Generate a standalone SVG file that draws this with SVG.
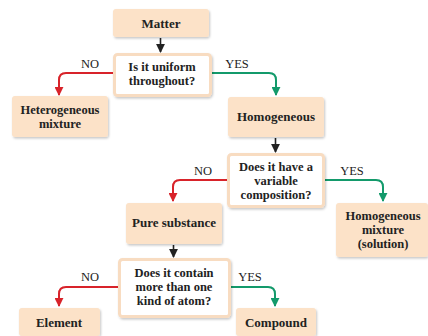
<svg xmlns="http://www.w3.org/2000/svg" width="428" height="336" viewBox="0 0 428 336">
<defs>
<filter id="sh" x="-10%" y="-10%" width="130%" height="140%">
<feDropShadow dx="1" dy="1.5" stdDeviation="1" flood-color="#000" flood-opacity="0.22"/>
</filter>
<marker id="ak" viewBox="0 0 10 10" refX="5" refY="9" markerWidth="9" markerHeight="9" markerUnits="userSpaceOnUse">
<path d="M0,0 L10,0 L5,10 Z" fill="#222"/>
</marker>
<marker id="ar" viewBox="0 0 10 10" refX="5" refY="9" markerWidth="9" markerHeight="9" markerUnits="userSpaceOnUse">
<path d="M0,0 L10,0 L5,10 Z" fill="#d8232a"/>
</marker>
<marker id="ag" viewBox="0 0 10 10" refX="5" refY="9" markerWidth="9" markerHeight="9" markerUnits="userSpaceOnUse">
<path d="M0,0 L10,0 L5,10 Z" fill="#139a6b"/>
</marker>
</defs>
<style>
.box{fill:#fce2c8;filter:url(#sh)}
.dec{fill:#fff;stroke:#f8dcc1;stroke-width:3;filter:url(#sh)}
.t{font-family:"Liberation Serif","Times New Roman",serif;font-weight:bold;font-size:13px;fill:#222;text-anchor:middle}
.m{font-size:12.5px}
.l{font-family:"Liberation Serif","Times New Roman",serif;font-size:12.5px;fill:#222;text-anchor:middle}
.k{fill:none;stroke:#222;stroke-width:1.6}
.r{fill:none;stroke:#d8232a;stroke-width:2}
.g{fill:none;stroke:#139a6b;stroke-width:2}
</style>
<rect width="428" height="336" fill="#fff"/>
<g id="connectors">
<line class="k" x1="160.5" y1="38" x2="160.5" y2="52" marker-end="url(#ak)"/>
<path class="r" d="M113,73 H66 Q59,73 59,80 V95" marker-end="url(#ar)"/>
<path class="g" d="M211,73 H269 Q276,73 276,80 V95" marker-end="url(#ag)"/>
<line class="k" x1="275.5" y1="138" x2="275.5" y2="152" marker-end="url(#ak)"/>
<path class="r" d="M227,180 H180 Q173,180 173,187 V201" marker-end="url(#ar)"/>
<path class="g" d="M325,180 H376 Q383,180 383,187 V201" marker-end="url(#ag)"/>
<line class="k" x1="173.5" y1="245" x2="173.5" y2="257" marker-end="url(#ak)"/>
<path class="r" d="M118,287 H66 Q59,287 59,294 V306" marker-end="url(#ar)"/>
<path class="g" d="M230,287 H268 Q275,287 275,294 V306" marker-end="url(#ag)"/>
<text class="l" x="90" y="68">NO</text>
<text class="l" x="237" y="68">YES</text>
<text class="l" x="203" y="175">NO</text>
<text class="l" x="352" y="175">YES</text>
<text class="l" x="90" y="281">NO</text>
<text class="l" x="250" y="281">YES</text>
</g>
<g id="matter">
<rect class="box" x="113" y="9" width="96" height="28" rx="3"/>
<text class="t" x="161" y="27.5">Matter</text>
</g>
<g id="q1">
<rect class="dec" x="114.5" y="54.5" width="96" height="41" rx="3"/>
<text class="t m" x="162" y="71">Is it uniform</text>
<text class="t m" x="162" y="85">throughout?</text>
</g>
<g id="hetero">
<rect class="box" x="12" y="96" width="96" height="41" rx="3"/>
<text class="t m" x="60" y="114">Heterogeneous</text>
<text class="t m" x="60" y="128">mixture</text>
</g>
<g id="homo">
<rect class="box" x="228" y="97" width="96" height="40" rx="3"/>
<text class="t" x="276" y="121">Homogeneous</text>
</g>
<g id="q2">
<rect class="dec" x="228.5" y="154.5" width="95" height="52" rx="3"/>
<text class="t m" x="276" y="171">Does it have a</text>
<text class="t m" x="276" y="185">variable</text>
<text class="t m" x="276" y="199">composition?</text>
</g>
<g id="pure">
<rect class="box" x="126" y="203" width="96" height="41" rx="3"/>
<text class="t" x="174" y="227">Pure substance</text>
</g>
<g id="solution">
<rect class="box" x="336" y="203" width="92" height="54" rx="3"/>
<text class="t m" x="383" y="220">Homogeneous</text>
<text class="t m" x="383" y="234">mixture</text>
<text class="t m" x="383" y="248">(solution)</text>
</g>
<g id="q3">
<rect class="dec" x="119.5" y="259.5" width="110" height="57" rx="3"/>
<text class="t m" x="174" y="277">Does it contain</text>
<text class="t m" x="174" y="291">more than one</text>
<text class="t m" x="174" y="305">kind of atom?</text>
</g>
<g id="element">
<rect class="box" x="19" y="308" width="81" height="28" rx="3"/>
<text class="t" x="59" y="327">Element</text>
</g>
<g id="compound">
<rect class="box" x="236" y="308" width="80" height="28" rx="3"/>
<text class="t" x="276" y="327">Compound</text>
</g>
</svg>
